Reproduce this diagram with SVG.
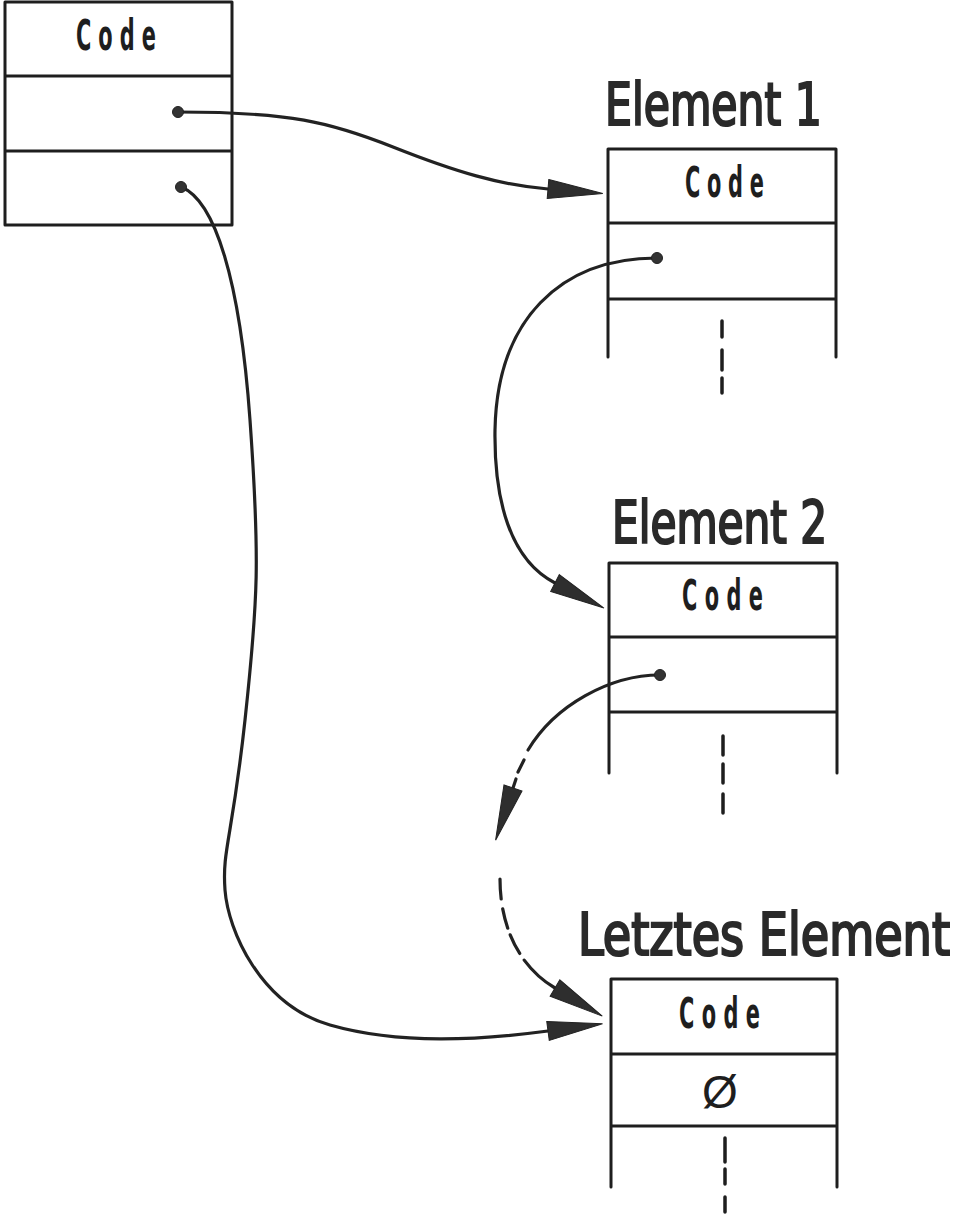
<svg xmlns="http://www.w3.org/2000/svg" width="960" height="1216" viewBox="0 0 960 1216">
<style>
.box{fill:none;stroke:#1e1e1e;stroke-width:3;stroke-linecap:round;stroke-linejoin:round}
.ln{fill:none;stroke:#1e1e1e;stroke-width:3}
.con{fill:none;stroke:#222;stroke-width:3.2;stroke-linecap:round}
.dots{fill:none;stroke:#1e1e1e;stroke-width:3.5;stroke-linecap:round}
.dot{fill:#333;stroke:#222;stroke-width:1}
.code{font-family:"DejaVu Sans Condensed","DejaVu Sans","Liberation Sans",sans-serif;font-weight:bold;font-size:43px;fill:#1e1e1e}
.title{font-family:"DejaVu Sans Condensed","DejaVu Sans","Liberation Sans",sans-serif;font-weight:normal;font-size:58px;fill:#2a2a2a;stroke:#2a2a2a;stroke-width:2.2}
.null{font-family:"Liberation Sans",sans-serif;font-size:46px;fill:#1e1e1e}
</style>
<defs>
<marker id="ah" markerUnits="userSpaceOnUse" markerWidth="60" markerHeight="24" refX="0" refY="0" viewBox="0 -12 60 24" orient="auto" overflow="visible">
<path d="M0,-9.5 L55,0 L0,9.5 Z" fill="#2e2e2e" stroke="#222" stroke-width="1"/>
</marker>
</defs>
<rect width="960" height="1216" fill="#fff"/>

<g id="head">
<rect class="box" x="5" y="2" width="227" height="223"/>
<line class="ln" x1="5" y1="76" x2="232" y2="76"/>
<line class="ln" x1="5" y1="151" x2="232" y2="151"/>
<text class="code" transform="translate(76,50) scale(0.54,1)" textLength="148" lengthAdjust="spacing">Code</text>
</g>

<g id="element1">
<text class="title" transform="translate(605,125) scale(0.8,1)" textLength="271" lengthAdjust="spacingAndGlyphs">Element 1</text>
<path class="box" d="M608,357 V149 H836 V357"/>
<line class="ln" x1="608" y1="223" x2="836" y2="223"/>
<line class="ln" x1="608" y1="299" x2="836" y2="299"/>
<text class="code" transform="translate(685,197) scale(0.54,1)" textLength="146" lengthAdjust="spacing">Code</text>
<path class="dots" d="M722,321 V337 M722,350 V370 M722,378 V393"/>
</g>

<g id="element2">
<text class="title" transform="translate(612,543) scale(0.8,1)" textLength="269" lengthAdjust="spacingAndGlyphs">Element 2</text>
<path class="box" d="M609,773 V563 H837 V773"/>
<line class="ln" x1="609" y1="637" x2="837" y2="637"/>
<line class="ln" x1="609" y1="712" x2="837" y2="712"/>
<text class="code" transform="translate(682,610) scale(0.54,1)" textLength="150" lengthAdjust="spacing">Code</text>
<path class="dots" d="M723,736 V755 M723,764 V783 M723,794 V813"/>
</g>

<g id="last">
<text class="title" transform="translate(578,955) scale(0.8,1)" font-size="56" textLength="465" lengthAdjust="spacingAndGlyphs">Letztes Element</text>
<path class="box" d="M611,1187 V979 H837 V1187"/>
<line class="ln" x1="611" y1="1054" x2="837" y2="1054"/>
<line class="ln" x1="611" y1="1126" x2="837" y2="1126"/>
<text class="code" transform="translate(679,1028) scale(0.54,1)" textLength="150" lengthAdjust="spacing">Code</text>
<text class="null" x="720" y="1108" text-anchor="middle">Ø</text>
<path class="dots" d="M725,1138 V1162 M725,1169 V1184 M725,1197 V1212"/>
</g>

<g id="connectors">
<path class="con" d="M178,112 C290,112 330,122 393,147 S500,185 548,189" marker-end="url(#ah)"/>
<path class="con" d="M181,187 C215,200 240,280 250,420 S258,600 245,720 S222,850 225,890 S260,1005 330,1025 S480,1040 548,1031" marker-end="url(#ah)"/>
<path class="con" d="M657,258 C560,258 497,320 495,430 C494,500 510,560 555,583" marker-end="url(#ah)"/>
<path class="con" d="M660,675 C610,675 555,705 528,750"/>
<path class="con" d="M524,760 L518,772"/>
<path class="con" d="M516,779 L513,788" marker-end="url(#ah)"/>
<path class="con" d="M500,879 C500,925 518,966 555,988" stroke-dasharray="20 10 20 7 21 8 200" marker-end="url(#ah)"/>
<circle class="dot" cx="178" cy="112" r="5.5"/>
<circle class="dot" cx="181" cy="187" r="5.5"/>
<circle class="dot" cx="657" cy="258" r="5.5"/>
<circle class="dot" cx="660" cy="675" r="5.5"/>
</g>
</svg>
